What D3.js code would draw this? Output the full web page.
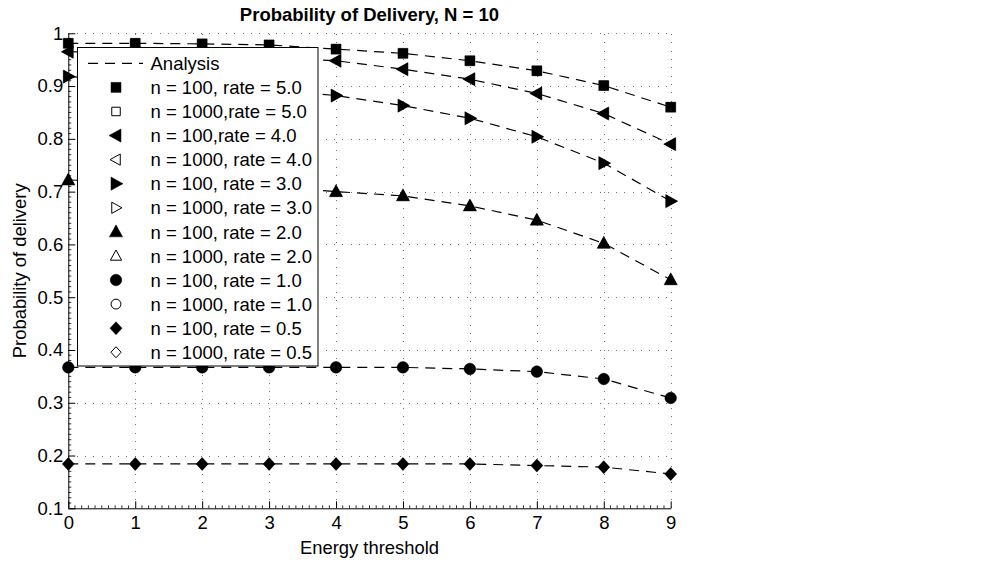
<!DOCTYPE html>
<html>
<head>
<meta charset="utf-8">
<script src="https://cdn.jsdelivr.net/npm/d3@7"></script>
<style>
  html, body { margin: 0; padding: 0; background: #fff; }
  svg { display: block; font-family: "Liberation Sans", Arial, Helvetica, sans-serif; }
</style>
</head>
<body>
<svg id="chart" width="1003" height="561"></svg>
<script>
// Energy threshold values on the x axis
const thresholds = [0, 1, 2, 3, 4, 5, 6, 7, 8, 9];
const xTicks = [0, 1, 2, 3, 4, 5, 6, 7, 8, 9];
const yTicks = [0.1, 0.2, 0.3, 0.4, 0.5, 0.6, 0.7, 0.8, 0.9, 1];
const yTickLabels = ["0.1", "0.2", "0.3", "0.4", "0.5", "0.6", "0.7", "0.8", "0.9", "1"];

// Arrival rates and the marker used for each
const rates = ["5.0", "4.0", "3.0", "2.0", "1.0", "0.5"];
const shapes = ["square", "left", "right", "up", "circle", "diamond"];

// Analytical probability of delivery per rate
const analysisRate5  = [0.981, 0.981, 0.980, 0.978, 0.970, 0.962, 0.948, 0.929, 0.901, 0.860];
const analysisRate4  = [0.965, 0.963, 0.960, 0.955, 0.948, 0.932, 0.913, 0.886, 0.848, 0.790];
const analysisRate3  = [0.918, 0.912, 0.904, 0.894, 0.882, 0.863, 0.839, 0.804, 0.754, 0.682];
const analysisRate2  = [0.722, 0.719, 0.715, 0.709, 0.700, 0.692, 0.673, 0.646, 0.602, 0.533];
const analysisRate1  = [0.367, 0.367, 0.367, 0.367, 0.367, 0.367, 0.364, 0.359, 0.345, 0.309];
const analysisRate05 = [0.184, 0.184, 0.184, 0.184, 0.184, 0.184, 0.184, 0.181, 0.178, 0.165];

// Simulated probability of delivery, n = 100 runs
const simN100Rate5  = [0.981, 0.981, 0.980, 0.978, 0.970, 0.962, 0.948, 0.929, 0.901, 0.860];
const simN100Rate4  = [0.965, 0.963, 0.960, 0.955, 0.948, 0.932, 0.913, 0.886, 0.848, 0.790];
const simN100Rate3  = [0.918, 0.912, 0.904, 0.894, 0.882, 0.863, 0.839, 0.804, 0.754, 0.682];
const simN100Rate2  = [0.722, 0.719, 0.715, 0.709, 0.700, 0.692, 0.673, 0.646, 0.602, 0.533];
const simN100Rate1  = [0.367, 0.367, 0.367, 0.367, 0.367, 0.367, 0.364, 0.359, 0.345, 0.309];
const simN100Rate05 = [0.184, 0.184, 0.184, 0.184, 0.184, 0.184, 0.184, 0.181, 0.178, 0.165];

// Simulated probability of delivery, n = 1000 runs
const simN1000Rate5  = [0.981, 0.981, 0.980, 0.978, 0.970, 0.962, 0.948, 0.929, 0.901, 0.860];
const simN1000Rate4  = [0.965, 0.963, 0.960, 0.955, 0.948, 0.932, 0.913, 0.886, 0.848, 0.790];
const simN1000Rate3  = [0.918, 0.912, 0.904, 0.894, 0.882, 0.863, 0.839, 0.804, 0.754, 0.682];
const simN1000Rate2  = [0.722, 0.719, 0.715, 0.709, 0.700, 0.692, 0.673, 0.646, 0.602, 0.533];
const simN1000Rate1  = [0.367, 0.367, 0.367, 0.367, 0.367, 0.367, 0.364, 0.359, 0.345, 0.309];
const simN1000Rate05 = [0.184, 0.184, 0.184, 0.184, 0.184, 0.184, 0.184, 0.181, 0.178, 0.165];

const analysis = [analysisRate5, analysisRate4, analysisRate3, analysisRate2, analysisRate1, analysisRate05];
const simN100  = [simN100Rate5, simN100Rate4, simN100Rate3, simN100Rate2, simN100Rate1, simN100Rate05];
const simN1000 = [simN1000Rate5, simN1000Rate4, simN1000Rate3, simN1000Rate2, simN1000Rate1, simN1000Rate05];

const legendLabels = [
  "Analysis",
  "n = 100, rate = 5.0",
  "n = 1000,rate = 5.0",
  "n = 100,rate = 4.0",
  "n = 1000, rate = 4.0",
  "n = 100, rate = 3.0",
  "n = 1000, rate = 3.0",
  "n = 100, rate = 2.0",
  "n = 1000, rate = 2.0",
  "n = 100, rate = 1.0",
  "n = 1000, rate = 1.0",
  "n = 100, rate = 0.5",
  "n = 1000, rate = 0.5"
];

const svg = d3.select("#chart");
const plot = { left: 68.3, right: 670.7, top: 33.3, bottom: 508.3 };

const x = d3.scaleLinear().domain([0, 9]).range([plot.left, plot.right]);
const y = d3.scaleLinear().domain([0.1, 1]).range([plot.bottom, plot.top]);

const TICK_FONT = 18.5;
const LEGEND_FONT = 18.5;
const LABEL_FONT = 18.4;

// Marker outline for a given shape, centred at the origin
function markerPath(shape, k) {
  const p = d3.path();
  if (shape === "square") {
    const s = 5 * k;
    p.rect(-s, -s, 2 * s, 2 * s);
  } else if (shape === "circle") {
    p.arc(0, 0, 5.8 * k, 0, 2 * Math.PI);
  } else if (shape === "diamond") {
    p.moveTo(0, -6.5 * k); p.lineTo(6 * k, 0); p.lineTo(0, 6.5 * k); p.lineTo(-6 * k, 0); p.closePath();
  } else if (shape === "up") {
    p.moveTo(0, -7 * k); p.lineTo(6.6 * k, 5 * k); p.lineTo(-6.6 * k, 5 * k); p.closePath();
  } else if (shape === "left") {
    p.moveTo(-7 * k, 0); p.lineTo(5 * k, -6.6 * k); p.lineTo(5 * k, 6.6 * k); p.closePath();
  } else if (shape === "right") {
    p.moveTo(7 * k, 0); p.lineTo(-5 * k, -6.6 * k); p.lineTo(-5 * k, 6.6 * k); p.closePath();
  }
  return p.toString();
}

// Dotted grid
const grid = svg.append("g").attr("stroke", "#6e6e6e").attr("stroke-width", 1)
  .attr("stroke-dasharray", "1,7.3").attr("shape-rendering", "crispEdges");
grid.selectAll("line.v").data(xTicks.filter(d => d > 0)).join("line")
  .attr("x1", d => Math.round(x(d)) + 0.5).attr("x2", d => Math.round(x(d)) + 0.5)
  .attr("y1", plot.bottom).attr("y2", plot.top);
grid.selectAll("line.h").data(yTicks.filter(d => d > 0.1)).join("line")
  .attr("y1", d => Math.round(y(d)) + 0.5).attr("y2", d => Math.round(y(d)) + 0.5)
  .attr("x1", plot.left).attr("x2", plot.right);

// Axes with inward ticks
const xAxis = d3.axisBottom(x).tickValues(xTicks).tickFormat(d3.format("d")).tickSizeInner(-7).tickSizeOuter(0).tickPadding(8);
const gx = svg.append("g").attr("transform", `translate(0,${plot.bottom})`).call(xAxis);
const yAxis = d3.axisLeft(y).tickValues(yTicks).tickFormat((d, i) => yTickLabels[i]).tickSizeInner(-7).tickSizeOuter(0).tickPadding(5);
const gy = svg.append("g").attr("transform", `translate(${plot.left},0)`).call(yAxis);
[gx, gy].forEach(g => {
  g.select(".domain").attr("stroke", "#000").attr("stroke-width", 1);
  g.selectAll(".tick line").attr("stroke", "#000");
  g.selectAll(".tick text").attr("font-size", TICK_FONT).attr("fill", "#000")
    .attr("font-family", "'Liberation Sans', Arial, sans-serif");
});

// Minor ticks
const xMinor = d3.range(0, 90).map(i => i / 10).filter((d, i) => i % 10 !== 0);
svg.append("g").selectAll("line").data(xMinor).join("line")
  .attr("x1", d => x(d)).attr("x2", d => x(d))
  .attr("y1", plot.bottom).attr("y2", plot.bottom - 3)
  .attr("stroke", "#000").attr("stroke-width", 0.8);
const yMinor = d3.range(10, 100).map(i => i / 100).filter((d, i) => i % 10 !== 0);
svg.append("g").selectAll("line").data(yMinor).join("line")
  .attr("y1", d => y(d)).attr("y2", d => y(d))
  .attr("x1", plot.left).attr("x2", plot.left + 3)
  .attr("stroke", "#000").attr("stroke-width", 0.8);

// Analysis curves
const line = d3.line().x((d, i) => x(thresholds[i])).y(d => y(d));
svg.append("g").selectAll("path").data(analysis).join("path")
  .attr("d", line).attr("fill", "none").attr("stroke", "#000")
  .attr("stroke-width", 1.2).attr("stroke-dasharray", "10,7");

// Simulation markers: n = 1000 open, n = 100 filled on top
simN1000.forEach((series, s) => {
  svg.append("g").selectAll("path").data(series).join("path")
    .attr("transform", (d, i) => `translate(${x(thresholds[i])},${y(d)})`)
    .attr("d", markerPath(shapes[s], 0.85)).attr("fill", "#fff").attr("stroke", "#000").attr("stroke-width", 1);
});
simN100.forEach((series, s) => {
  svg.append("g").selectAll("path").data(series).join("path")
    .attr("transform", (d, i) => `translate(${x(thresholds[i])},${y(d)})`)
    .attr("d", markerPath(shapes[s], 1)).attr("fill", "#000").attr("stroke", "#000").attr("stroke-width", 0.5);
});

// Legend
const legend = svg.append("g");
legend.append("rect").attr("x", 77.5).attr("y", 47.5).attr("width", 240.5).attr("height", 318.5)
  .attr("fill", "#fff").attr("stroke", "#000").attr("stroke-width", 1);
const rowY = i => 63.3 + i * 24.08;
legend.append("line").attr("x1", 88).attr("x2", 143).attr("y1", rowY(0)).attr("y2", rowY(0))
  .attr("stroke", "#000").attr("stroke-width", 1.2).attr("stroke-dasharray", "10,7");
rates.forEach((r, s) => {
  legend.append("path").attr("transform", `translate(116,${rowY(1 + 2 * s)})`)
    .attr("d", markerPath(shapes[s], 1)).attr("fill", "#000").attr("stroke", "#000").attr("stroke-width", 0.5);
  legend.append("path").attr("transform", `translate(116,${rowY(2 + 2 * s)})`)
    .attr("d", markerPath(shapes[s], 0.85)).attr("fill", "#fff").attr("stroke", "#000").attr("stroke-width", 1);
});
legend.selectAll("text").data(legendLabels).join("text")
  .attr("x", 150.5).attr("y", (d, i) => rowY(i)).attr("dy", "0.36em")
  .attr("font-size", LEGEND_FONT).attr("fill", "#000").text(d => d);

// Titles
svg.append("text").attr("x", (plot.left + plot.right) / 2).attr("y", 14).attr("dy", "0.36em")
  .attr("text-anchor", "middle").attr("font-size", 18.5).attr("font-weight", "bold")
  .text("Probability of Delivery, N = 10");
svg.append("text").attr("x", (plot.left + plot.right) / 2).attr("y", 547.5).attr("dy", "0.36em")
  .attr("text-anchor", "middle").attr("font-size", LABEL_FONT).text("Energy threshold");
svg.append("text").attr("transform", `translate(19,${(plot.top + plot.bottom) / 2}) rotate(-90)`)
  .attr("dy", "0.36em").attr("text-anchor", "middle").attr("font-size", LABEL_FONT).text("Probability of delivery");
</script>
</body>
</html>
